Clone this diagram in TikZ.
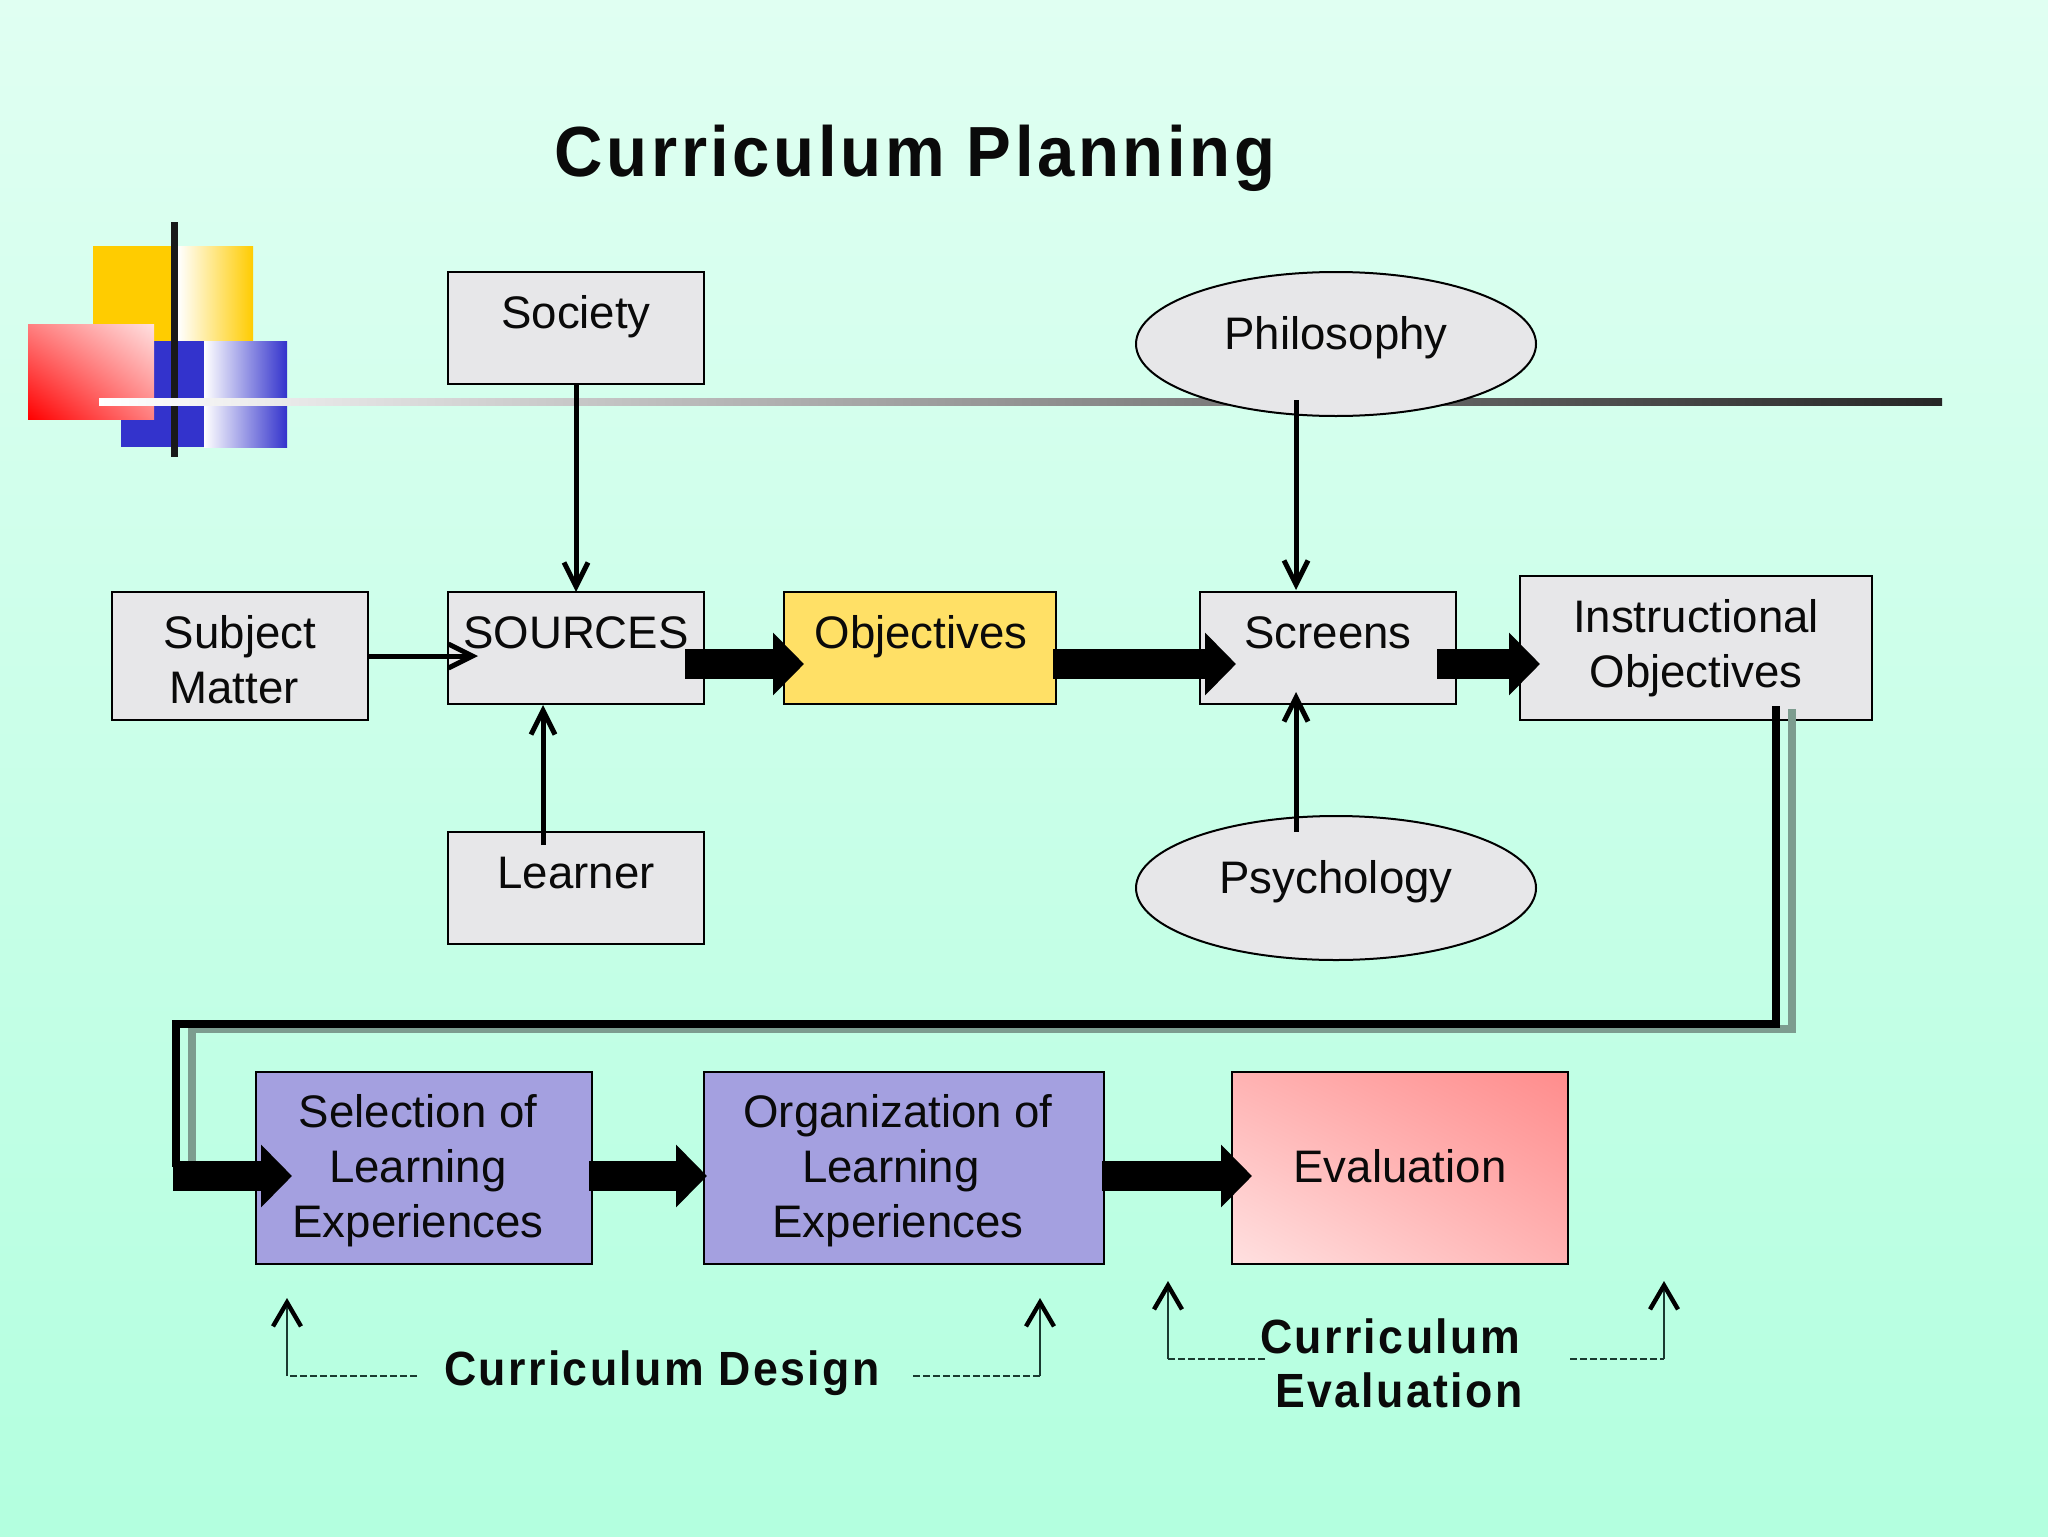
\documentclass[tikz,border=0pt]{standalone}
\usepackage{fontspec}
\setmainfont{Liberation Sans}
\usetikzlibrary{arrows.meta,shapes.geometric,shadings}
\definecolor{bgtop}{HTML}{E0FFF2}
\definecolor{bgbot}{HTML}{B3FFDF}
\definecolor{boxgrey}{HTML}{E7E7E9}
\definecolor{objyellow}{HTML}{FFE066}
\definecolor{lavender}{HTML}{A4A0E0}
\definecolor{ink}{HTML}{0A0A0A}
\definecolor{shadowline}{HTML}{7D9C8F}
\definecolor{dashink}{HTML}{1A3A30}
\definecolor{goldy}{HTML}{FFCC00}
\definecolor{bluey}{HTML}{3333CC}
\newcommand{\tx}[3]{\raisebox{#2}[0pt][0pt]{\makebox[0pt][c]{\hspace*{#1}\begin{tabular}[t]{@{}c@{}}#3\end{tabular}}}}
\tikzset{
  x=0.5pt,y=-0.5pt,
  every node/.style={font=\fontsize{22.8}{27.5}\selectfont,text=ink},
  shapebase/.style={draw=black,line width=1pt,inner sep=0pt,outer sep=0pt},
  greybox/.style={shapebase,rectangle,fill=boxgrey},
  yellowbox/.style={shapebase,rectangle,fill=objyellow},
  bluebox/.style={shapebase,rectangle,fill=lavender},
  oval/.style={shapebase,ellipse,fill=boxgrey,minimum width=200pt,minimum height=72pt},
  thinarrow/.style={draw=black,line width=2.5pt,-{Straight Barb[length=12pt,width=12pt]}},
  blockarrow/.style={draw=black,line width=15pt,-{Triangle[length=15.5pt,width=30.5pt]}},
  heavyline/.style={draw=black,line width=4pt,miter limit=10},
  heavyshadow/.style={draw=shadowline,line width=4pt},
  dashpart/.style={draw=dashink,line width=0.8pt,dash pattern=on 3.5pt off 1.5pt},
  riser/.style={draw=dashink,line width=0.8pt,-{Straight Barb[length=12pt,width=14pt,line width=2.2pt,color=black]}},
  boldlabel/.style={anchor=base,inner sep=0pt,font=\fontsize{24}{27.5}\selectfont\bfseries\addfontfeature{LetterSpace=5,FakeStretch=0.93}},
}
\begin{document}
\begin{tikzpicture}
\useasboundingbox (0,0) rectangle (2048,1536);
% background
\fill[top color=bgtop,bottom color=bgbot] (0,0) rectangle (2048,1536);
% decoration
\fill[goldy] (93,246) rectangle (178,341);
\fill[left color=white,right color=goldy] (178,246) rectangle (253,341);
\fill[bluey] (121,341) rectangle (204,447);
\fill[left color=white,right color=bluey] (204,341) rectangle (287,447);
\shade[lower left=red,upper right=red!12!white,upper left=red!50!white,lower right=red!50!white] (28,324) rectangle (154,419);
\fill[black!90] (171,222) rectangle (178,457);
\fill[left color=white,right color=black!85] (99,398.5) rectangle (1942,405.5);
% nodes
\node[greybox,minimum width=128pt,minimum height=56pt] (society) at (576,328) {\tx{0pt}{0pt}{Society}};
\node[greybox,minimum width=128pt,minimum height=64pt] (subject) at (240,656) {\tx{0pt}{4pt}{Subject\\Matter\hspace*{6pt}}};
\node[greybox,minimum width=128pt,minimum height=56pt] (sources) at (576,648) {\tx{0pt}{0pt}{SOURCES}};
\node[yellowbox,minimum width=136pt,minimum height=56pt] (objectives) at (920,648) {\tx{1pt}{0pt}{Objectives}};
\node[greybox,minimum width=128pt,minimum height=56pt] (screens) at (1328,648) {\tx{0pt}{0pt}{Screens}};
\node[greybox,minimum width=176pt,minimum height=72pt] (instr) at (1696,648) {\tx{0pt}{8pt}{Instructional\\Objectives}};
\node[greybox,minimum width=128pt,minimum height=56pt] (learner) at (576,888) {\tx{0pt}{0pt}{Learner}};
\node[oval] (philosophy) at (1336,344) {\tx{0pt}{-2.5pt}{Philosophy}};
\node[oval] (psychology) at (1336,888) {\tx{0pt}{-2.5pt}{Psychology}};
\node[bluebox,minimum width=168pt,minimum height=96pt] (selection) at (424,1168) {\tx{-6pt}{20.5pt}{Selection of\\Learning\\Experiences}};
\node[bluebox,minimum width=200pt,minimum height=96pt] (organization) at (904,1168) {\tx{-6pt}{20.5pt}{Organization of\\Learning\hspace*{7pt}\\Experiences}};
\node[shapebase,rectangle,minimum width=168pt,minimum height=96pt,lower left=red!12!white,upper right=red!45!white,upper left=red!30!white,lower right=red!30!white,shade] (evaluation) at (1400,1168) {\tx{0pt}{-7pt}{Evaluation}};
\node[anchor=base,inner sep=0pt,font=\fontsize{35.5}{40}\selectfont\bfseries\addfontfeature{LetterSpace=5,FakeStretch=0.945}] (title) at (915,176) {Curriculum Planning};
\node[boldlabel] (design) at (662,1385) {Curriculum Design};
\node[boldlabel] (evalA) at (1390,1353) {Curriculum};
\node[boldlabel] (evalB) at (1399,1407) {Evaluation};
% thin arrows
\draw[thinarrow] (subject.east) -- ([shift={(30,8)}]sources.west);
\draw[thinarrow] (society.south) -- (sources.north);
\draw[thinarrow] ([shift={(-33,13)}]learner.north) -- ([shift={(-33,1)}]sources.south);
\draw[thinarrow] ([shift={(-40,56)}]philosophy.center) -- ([shift={(-32,-2)}]screens.north);
\draw[thinarrow] ([shift={(-40,16)}]psychology.north) -- ([shift={(-32,-12)}]screens.south);
% thick route with shadow
\coordinate (turnA) at (176,1024);
\coordinate (selA) at (176,1167);
\coordinate (turnB) at (192,1029);
\coordinate (selB) at (192,1161);
\draw[heavyshadow] ([shift={(96,-11)}]instr.south) |- (turnB) -- (selB);
\draw[heavyline] ([shift={(80,-14)}]instr.south) |- (turnA) -- (selA);
% block arrows
\draw[blockarrow] ([shift={(-19,16)}]sources.east) -- ([shift={(20,16)}]objectives.west);
\draw[blockarrow] ([shift={(-3,16)}]objectives.east) -- ([shift={(36,16)}]screens.west);
\draw[blockarrow] ([shift={(-19,16)}]screens.east) -- ([shift={(20,16)}]instr.west);
\coordinate (blockstart) at (173,1176);
\draw[blockarrow] (blockstart) -- ([shift={(36,8)}]selection.west);
\draw[blockarrow] ([shift={(-3,8)}]selection.east) -- ([shift={(3,8)}]organization.west);
\draw[blockarrow] ([shift={(-2,8)}]organization.east) -- ([shift={(20,8)}]evaluation.west);
% curriculum brackets
\coordinate (dLa) at (417,1376);
\coordinate (dLb) at (287,1376);
\coordinate (dLc) at (287,1298);
\coordinate (dRa) at (913,1376);
\coordinate (dRb) at (1040,1376);
\coordinate (dRc) at (1040,1298);
\coordinate (eLa) at (1265,1359);
\coordinate (eLb) at (1168,1359);
\coordinate (eLc) at (1168,1281);
\coordinate (eRa) at (1570,1359);
\coordinate (eRb) at (1664,1359);
\coordinate (eRc) at (1664,1281);
\draw[dashpart] (dLa) -- (dLb);
\draw[riser] (dLb) -- (dLc);
\draw[dashpart] (dRa) -- (dRb);
\draw[riser] (dRb) -- (dRc);
\draw[dashpart] (eLa) -- (eLb);
\draw[riser] (eLb) -- (eLc);
\draw[dashpart] (eRa) -- (eRb);
\draw[riser] (eRb) -- (eRc);
\end{tikzpicture}
\end{document}
